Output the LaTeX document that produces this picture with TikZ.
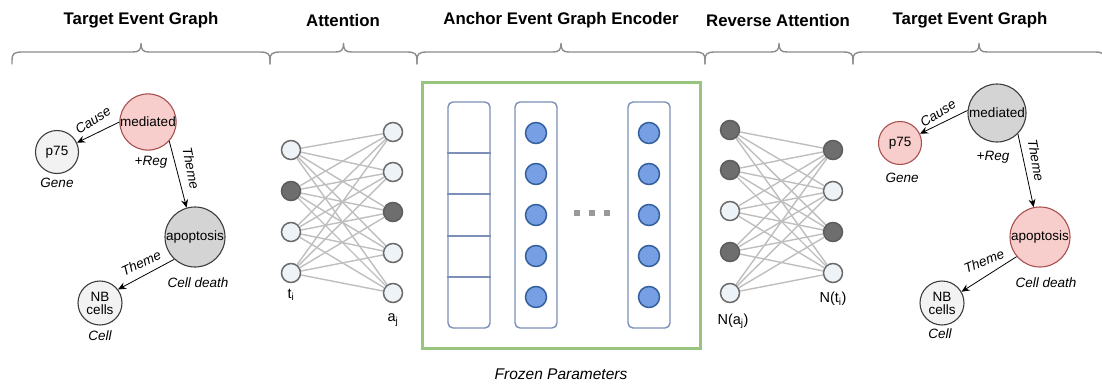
\documentclass[tikz,border=0pt]{standalone}
\usepackage{fontspec}
\setmainfont{Liberation Sans}
\usetikzlibrary{arrows.meta}

\definecolor{bracegray}{HTML}{8C8C8C}
\definecolor{wirecol}{HTML}{BEBEBE}
\definecolor{unitfill}{HTML}{EEF3F8}
\definecolor{unitdraw}{HTML}{6B6B6B}
\definecolor{unitdark}{HTML}{6E6E6E}
\definecolor{frozen}{HTML}{97C47E}
\definecolor{colbox}{HTML}{7B8FB8}
\definecolor{neuronfill}{HTML}{76A0E3}
\definecolor{neurondraw}{HTML}{34619E}
\definecolor{pinkfill}{HTML}{F8CECC}
\definecolor{pinkdraw}{HTML}{A8504D}
\definecolor{lightfill}{HTML}{F2F2F2}
\definecolor{midfill}{HTML}{D4D4D4}
\definecolor{evtdraw}{HTML}{3D3D3D}

% horizontal curly brace: left end, right end
\newcommand{\headbrace}[2]{%
  \pgfmathsetmacro{\bmid}{(#1+#2)/2}%
  \draw[brace] (#1,64) -- (#1,60) .. controls (#1,54) and (#1+2,52) .. (#1+10,52)
    -- (\bmid-8,52) .. controls (\bmid-2,52) and (\bmid,50) .. (\bmid,43)
    .. controls (\bmid,50) and (\bmid+2,52) .. (\bmid+8,52)
    -- (#2-10,52) .. controls (#2-2,52) and (#2,54) .. (#2,60) -- (#2,64);}

\begin{document}
\begin{tikzpicture}[x=1pt,y=-1pt,
  hdr/.style={font=\fontsize{16.8}{19}\selectfont\bfseries},
  brace/.style={draw=bracegray, line width=1.4pt, line cap=round},
  evt/.style={circle, line width=1.1pt, inner sep=0pt, align=center,
    font=\fontsize{13.5}{15}\selectfont},
  pinkevt/.style={evt, fill=pinkfill, draw=pinkdraw},
  lightevt/.style={evt, fill=lightfill, draw=evtdraw},
  midevt/.style={evt, fill=midfill, draw=evtdraw},
  tag/.style={font=\fontsize{13.5}{15}\selectfont\itshape, inner sep=1pt},
  rel/.style={draw=black, line width=0.8pt, -{Stealth[length=8pt,width=7pt]}},
  unit/.style={circle, minimum size=19pt, inner sep=0pt, line width=1.5pt,
    draw=unitdraw, fill=unitfill},
  unitd/.style={unit, fill=unitdark, draw=unitdark!85!black},
  wire/.style={draw=wirecol, line width=1.4pt},
  colframe/.style={draw=colbox, line width=1.4pt, rounded corners=5pt, fill=white},
  neuron/.style={circle, minimum size=21pt, inner sep=0pt, line width=1.5pt,
    draw=neurondraw, fill=neuronfill},
  dotsq/.style={rectangle, minimum size=6pt, inner sep=0pt, fill=gray!80},
  lab/.style={font=\fontsize{14.5}{16}\selectfont}
]
\useasboundingbox (0,0) rectangle (1102,383);

% ---- section headings and braces ----
\node[hdr] (h1) at (141,20) {Target Event Graph};
\node[hdr] (h2) at (343,20) {Attention};
\node[hdr] (h3) at (561,20) {Anchor Event Graph Encoder};
\node[hdr] (h4) at (778,20) {Reverse Attention};
\node[hdr] (h5) at (970,20) {Target Event Graph};
\headbrace{12}{270}
\headbrace{270}{417}
\headbrace{417}{705}
\headbrace{705}{853}
\headbrace{853}{1105}

% ---- left event graph ----
\node[pinkevt, minimum size=56pt] (lmed) at (148,122) {mediated};
\node[lightevt, minimum size=43pt] (lp75) at (57,152) {p75};
\node[midevt, minimum size=60pt] (lapo) at (195,237) {apoptosis};
\node[lightevt, minimum size=44pt] (lnb) at (100,303) {NB\\[-2pt]cells};
\node[tag] (lgene) at (57,183) {Gene};
\node[tag] (lreg) at (151,162) {+Reg};
\node[tag] (lcd) at (198,283) {Cell death};
\node[tag] (lcell) at (100,336) {Cell};
\draw[rel] (lmed.west) -- (lp75.25);
\draw[rel] (lmed.-42) -- (lapo.106);
\draw[rel] (lapo.-133) -- (lnb.37);
\node[tag, rotate=33] (lcause) at (93,120) {Cause};
\node[tag, rotate=-79] (lth1) at (191,168) {Theme};
\node[tag, rotate=25] (lth2) at (141,263) {Theme};

% ---- attention ----
\foreach \y/\s [count=\i] in {150/unit,191/unitd,232/unit,273/unit}
  \node[\s] (ta\i) at (291,\y) {};
\foreach \y/\s [count=\j] in {132/unit,172/unit,212/unitd,253/unit,293/unit}
  \node[\s] (aa\j) at (393,\y) {};
\foreach \i in {1,...,4}
  \foreach \j in {1,...,5}
    \draw[wire] (ta\i) -- (aa\j);
\node[lab] (tlab) at (291,295) {t\textsubscript{i}};
\node[lab] (alab) at (393,320) {a\textsubscript{j}};

% ---- anchor event graph encoder ----
\node[draw=frozen, line width=3pt, minimum width=278pt, minimum height=266pt,
  inner sep=0pt] (frame) at (561,215) {};
\node[colframe, minimum width=42pt, minimum height=226pt] (c1) at (469,215) {};
\node[colframe, minimum width=42pt, minimum height=226pt] (c2) at (536,215) {};
\node[colframe, minimum width=42pt, minimum height=226pt] (c3) at (649,215) {};
\foreach \y in {153,194,236,277}
  \draw[draw=colbox, line width=1.1pt] (c1.west |- 0,\y) -- (c1.east |- 0,\y);
\foreach \y [count=\k] in {133,174,215,256,297} {
  \node[neuron] (n2\k) at (536,\y) {};
  \node[neuron] (n3\k) at (649,\y) {};
}
\node[dotsq] (d1) at (577,213) {};
\node[dotsq] (d2) at (592,213) {};
\node[dotsq] (d3) at (607,213) {};
\node[font=\fontsize{15.5}{17}\selectfont\itshape] (fz) at (561,374) {Frozen Parameters};

% ---- reverse attention ----
\foreach \y/\s [count=\j] in {130/unitd,170/unitd,211/unit,252/unitd,293/unit}
  \node[\s] (ra\j) at (730,\y) {};
\foreach \y/\s [count=\i] in {150/unitd,191/unit,232/unitd,273/unit}
  \node[\s] (rt\i) at (833,\y) {};
\foreach \i in {1,...,4}
  \foreach \j in {1,...,5}
    \draw[wire] (ra\j) -- (rt\i);
\node[lab] (ralab) at (733,321) {N(a\textsubscript{j})};
\node[lab] (rtlab) at (833,299) {N(t\textsubscript{i})};

% ---- right event graph ----
\node[midevt, minimum size=58pt] (rmed) at (997,113) {mediated};
\node[pinkevt, minimum size=43pt] (rp75) at (900,143) {p75};
\node[pinkevt, minimum size=60pt] (rapo) at (1040,237) {apoptosis};
\node[lightevt, minimum size=44pt] (rnb) at (942,303) {NB\\[-2pt]cells};
\node[tag] (rgene) at (902,178) {Gene};
\node[tag] (rreg) at (993,157) {+Reg};
\node[tag] (rcd) at (1046,283) {Cell death};
\node[tag] (rcell) at (940,334) {Cell};
\draw[rel] (rmed.175) -- (rp75.25);
\draw[rel] (rmed.-45) -- (rapo.102);
\draw[rel] (rapo.-140) -- (rnb.30);
\node[tag, rotate=32] (rcause) at (938,113) {Cause};
\node[tag, rotate=-80] (rth1) at (1036,160) {Theme};
\node[tag, rotate=22] (rth2) at (984,261) {Theme};
\end{tikzpicture}
\end{document}
